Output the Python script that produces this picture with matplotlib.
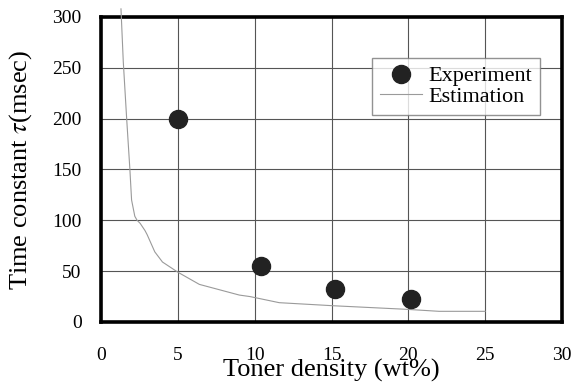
import matplotlib.pyplot as plt

plt.rcParams['font.family'] = ['Liberation Serif', 'DejaVu Serif']
plt.rcParams['mathtext.fontset'] = 'stix'

# measured points
exp_x = [5.0, 10.4, 15.2, 20.2]
exp_y = [200, 55, 32, 23]

# estimated curve
est_x = [1.3, 1.45, 1.67, 1.88, 1.99, 2.2, 2.35, 2.55, 2.86, 3.0, 3.5, 4.0, 5.0, 6.4, 9.0, 9.7, 11.6, 15.1, 19.85, 22.0, 25.0]
est_y = [308, 256, 200, 150, 120, 104, 100, 97, 90, 86, 69, 59, 49, 37, 26.5, 25, 19, 16, 12.5, 10.5, 10.5]

xticks = [0, 5, 10, 15, 20, 25, 30]
yticks = [0, 50, 100, 150, 200, 250, 300]

fig = plt.figure(figsize=(5.74, 3.83), dpi=100)
ax = fig.add_axes([101/574, 61/383, 461/574, 305/383])

ax.plot(est_x, est_y, color='#9a9a9a', lw=0.8, clip_on=False, label='Estimation', zorder=3)
ax.plot(exp_x, exp_y, 'o', color='#222222', ms=13, label='Experiment', zorder=4)

ax.set_xlim(0, 30)
ax.set_ylim(0, 300)
ax.set_xticks(xticks)
ax.set_yticks(yticks)
ax.grid(True, color='#555555', lw=0.8)
ax.set_axisbelow(True)
ax.tick_params(length=0, labelsize=14)
ax.tick_params(axis='x', pad=18)
ax.tick_params(axis='y', pad=14)
for s in ax.spines.values():
    s.set_linewidth(2.6)
    s.set_color('black')

fig.text(27/574, 1 - 169.5/383, r'Time constant $\tau$(msec)', rotation=90,
         rotation_mode='anchor', ha='center', va='baseline', fontsize=19)
fig.text(331/574, 6/383, 'Toner density (wt%)', ha='center', va='baseline', fontsize=19)

h, l = ax.get_legend_handles_labels()
leg = ax.legend([h[1], h[0]], [l[1], l[0]], loc='upper left',
                bbox_to_anchor=(372/574, 1 - 58/383), bbox_transform=fig.transFigure,
                fontsize=16, frameon=True, fancybox=False, borderpad=0.35,
                labelspacing=0.0, handlelength=1.9, handletextpad=0.3,
                borderaxespad=0)
leg.get_frame().set_edgecolor('#777777')
leg.get_frame().set_linewidth(1.0)

fig.savefig('out.png', dpi=100)
